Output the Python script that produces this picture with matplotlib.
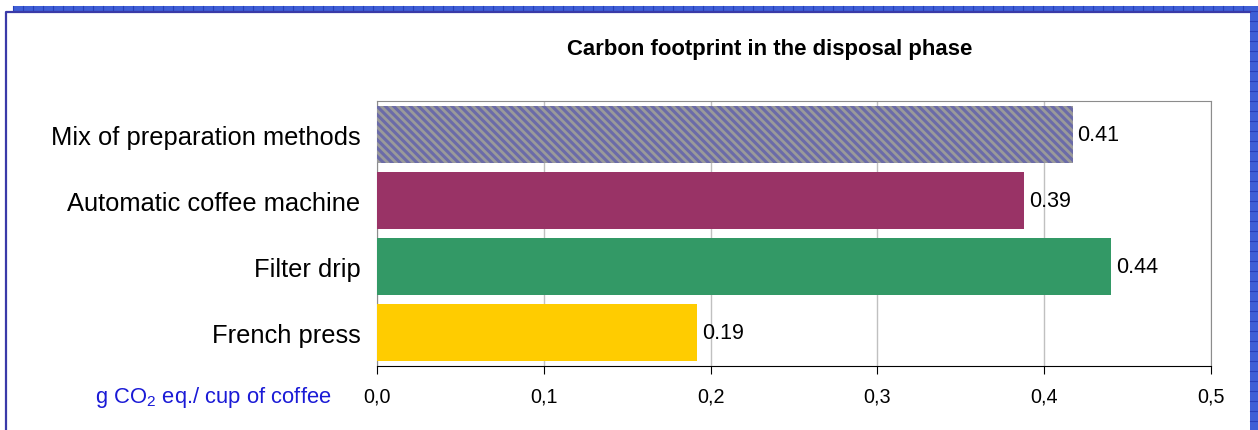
import matplotlib.pyplot as plt
from matplotlib.patches import Rectangle
from matplotlib.lines import Line2D

plt.rcParams['font.family'] = ['Liberation Sans', 'DejaVu Sans']
plt.rcParams['mathtext.fontset'] = 'custom'
plt.rcParams['mathtext.rm'] = 'Liberation Sans'
plt.rcParams['hatch.linewidth'] = 2.0

categories = ["Mix of preparation methods", "Automatic coffee machine", "Filter drip", "French press"]
values = [0.417, 0.388, 0.44, 0.192]
value_labels = ["0.41", "0.39", "0.44", "0.19"]
colors = ["#6b6ba8", "#993366", "#339966", "#ffcc00"]
xticks = [0.0, 0.1, 0.2, 0.3, 0.4, 0.5]
xtick_labels = ["0,0", "0,1", "0,2", "0,3", "0,4", "0,5"]

W, H = 1258, 431
fig = plt.figure(figsize=(W / 100, H / 100), dpi=100)

# selection frame around the chart (blue hatched band like in the spreadsheet)
band = "#3f5fd6"
fig.patches.append(Rectangle((13 / W, 1 - 12 / H), 1 - 13 / W, 5 / H, transform=fig.transFigure,
                             facecolor=band, edgecolor="none"))
fig.patches.append(Rectangle((1250 / W, 0), 8 / W, 1 - 7 / H, transform=fig.transFigure,
                             facecolor=band, edgecolor="none"))
for x in range(13, 1250, 10):
    fig.lines.append(Line2D([x / W, x / W], [1 - 12 / H, 1 - 7 / H], transform=fig.transFigure,
                            color="#2a3fb8", lw=0.8))
for y in range(12, H, 10):
    fig.lines.append(Line2D([1250 / W, 1], [1 - y / H, 1 - y / H], transform=fig.transFigure,
                            color="#2a3fb8", lw=0.8))
fig.lines.append(Line2D([6.5 / W, 6.5 / W, 1250 / W], [0, 1 - 12.5 / H, 1 - 12.5 / H],
                        transform=fig.transFigure, color="#3a3aa8", lw=1.6))

ax = fig.add_axes([377 / W, 64 / H, 834 / W, 265 / H])
ypos = list(range(len(categories)))
bars = ax.barh(ypos, values, height=0.86, color=colors, edgecolor="none", zorder=3)
bars[0].set_hatch("\\\\\\\\")
bars[0].set_edgecolor("#9a9a9a")
bars[0].set_linewidth(0)

for b, lab in zip(bars, value_labels):
    ax.text(b.get_width() + 0.003, b.get_y() + b.get_height() / 2, lab,
            va="center", ha="left", fontsize=15.5, zorder=4)

ax.set_ylim(3.5, -0.5)
ax.set_xlim(0, 0.5)
ax.set_yticks(ypos)
ax.set_yticklabels(categories, fontsize=18.4)
ax.tick_params(axis="y", length=0, pad=12)
ax.set_xticks(xticks)
ax.set_xticklabels(xtick_labels, fontsize=14.2)
ax.tick_params(axis="x", length=6, direction="out", pad=9, color="black")
ax.grid(axis="x", color="#c0c0c0", lw=1, zorder=0)

for s in ["top", "right", "left"]:
    ax.spines[s].set_color("#8c8c8c")
ax.spines["bottom"].set_color("black")

fig.text(770 / W, 1 - 50 / H, "Carbon footprint in the disposal phase",
         ha="center", va="center", fontsize=15.9, fontweight="bold")
fig.text(95 / W, 1 - 398 / H, r"g CO$\mathregular{_2}$ eq./ cup of coffee",
         ha="left", va="center", fontsize=15.8, color="#1a1ad6")

fig.savefig("out.png", dpi=100)
